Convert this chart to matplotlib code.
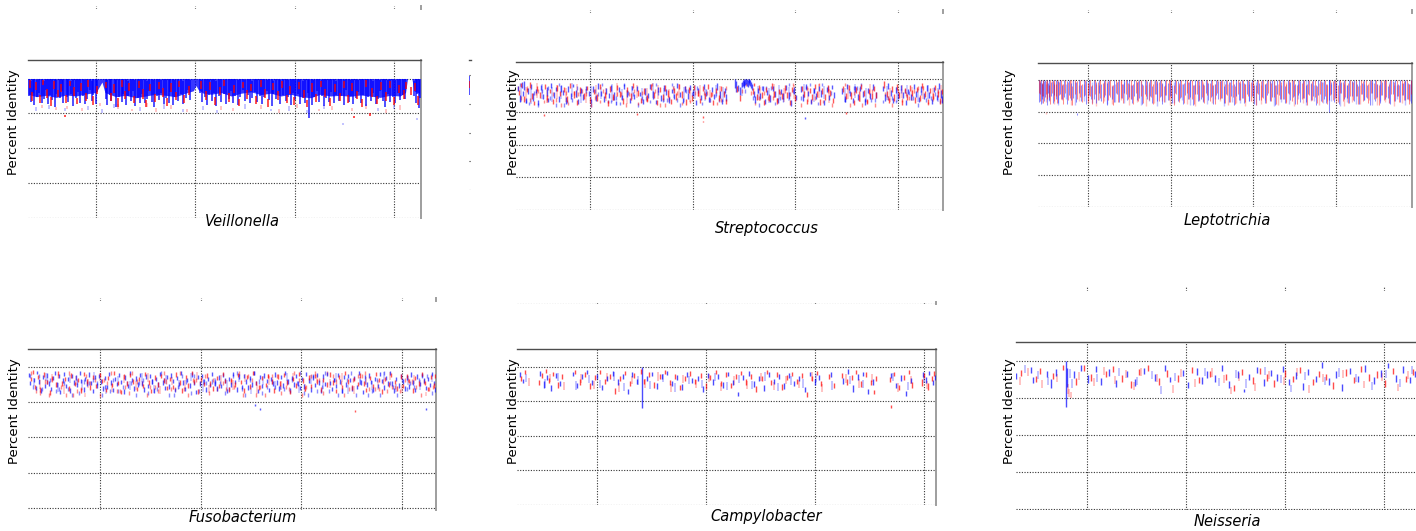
import numpy as np
import matplotlib
matplotlib.use("Agg")
import matplotlib.pyplot as plt

W, H = 1416, 531

# ---------------------------------------------------------------------------
# Recruited reads: (genome position in kb, top % identity, bottom % identity)
# ---------------------------------------------------------------------------

# Veillonella -- dense core coverage band plus individual read streaks
veil_core_kb = [158, 200, 250, 300, 350, 400, 450, 500, 515, 530, 545, 600, 650, 700, 750, 800,
                850, 900, 950, 990, 1003, 1015, 1040, 1080, 1130, 1180, 1230, 1280, 1330, 1380,
                1430, 1480, 1530, 1580, 1630, 1680, 1730, 1780, 1830, 1880, 1930, 1980, 2030,
                2058, 2068, 2090, 2100, 2136]
veil_core_lo = [95.5, 94.8, 95.2, 94.6, 95.3, 95.0, 95.6, 96.0, 97.5, 99.0, 96.0, 94.8, 95.2, 94.5,
                95.0, 95.5, 95.2, 94.8, 95.8, 96.5, 98.0, 96.8, 95.8, 95.5, 96.0, 95.0, 95.8, 96.2,
                95.4, 95.8, 95.0, 95.5, 94.8, 94.5, 95.5, 95.0, 95.2, 94.9, 95.3, 95.0, 94.6, 95.2,
                95.0, 96.0, 100, 100, 96.5, 95.5]
veil_blue = [(162,100,95.1),(171,99.4,93.2),(183,100,96.0),(189,100,92.4),(204,99.6,94.7),(211,100,95.9),
             (226,100,93.0),(238,99.2,94.1),(246,100,96.6),(259,100,92.7),(266,99.8,95.2),(281,100,93.9),
             (293,100,91.9),(301,99.5,95.6),(318,100,94.3),(327,100,96.4),(335,99.7,92.9),(352,100,94.8),
             (361,100,93.4),(376,99.3,95.7),(384,100,92.1),(397,100,94.4),(409,99.8,96.2),(418,100,93.1),
             (433,100,95.0),(446,99.6,92.6),(455,100,94.2),(468,100,96.8),(479,99.4,93.5),(487,100,95.4),
             (499,100,92.8),(507,99.6,96.1),(548,100,94.0),(556,99.7,92.3),(569,100,95.3),(578,100,93.6),
             (594,99.5,96.0),(603,100,91.8),(617,100,94.6),(629,99.8,93.3),(638,100,95.7),(652,100,92.5),
             (661,99.4,94.9),(676,100,93.7),(688,100,96.3),(697,99.6,92.0),(709,100,94.5),(722,100,93.0),
             (731,99.9,95.5),(746,100,92.9),(757,99.3,94.1),(766,100,96.5),(781,100,93.4),(792,99.7,91.7),
             (806,100,95.0),(815,100,93.8),(829,99.5,95.9),(840,100,92.6),(853,100,94.4),(866,99.8,93.1),
             (874,100,96.2),(889,100,92.3),(898,99.6,94.7),(912,100,93.5),(927,100,95.6),(936,99.4,92.8),
             (951,100,94.3),(963,100,96.7),(975,99.7,93.9),(1022,100,95.8),(1034,99.5,93.2),(1047,100,94.6),
             (1058,100,92.5),(1071,99.8,95.3),(1083,100,93.6),(1096,100,96.0),(1104,99.4,92.2),(1118,100,94.9),
             (1131,100,93.4),(1143,99.6,95.7),(1152,100,92.7),(1167,100,94.2),(1179,99.9,96.4),(1188,100,93.0),
             (1202,100,95.1),(1214,99.5,92.4),(1226,100,94.8),(1238,100,96.6),(1251,99.7,93.5),(1263,100,95.4),
             (1276,100,92.9),(1284,99.3,94.5),(1298,100,96.1),(1311,100,93.3),(1323,99.8,95.0),(1336,100,92.6),
             (1347,100,94.7),(1359,99.6,96.3),(1372,100,93.8),(1385,100,92.1),(1393,99.4,95.5),(1407,100,94.0),
             (1419,100,96.5),(1428,99.7,92.8),(1443,100,95.2),(1456,100,93.5),(1468,99.5,94.6),(1481,100,92.3),
             (1494,100,96.0),(1503,99.8,93.9),(1517,100,95.6),(1529,100,92.7),(1542,99.4,94.3),(1554,100,93.1),
             (1567,100,95.8),(1572,99.6,88.8),(1586,100,92.5),(1598,99.7,94.8),(1611,100,96.4),(1623,100,93.4),
             (1636,99.5,95.1),(1648,100,92.0),(1659,100,94.5),(1673,99.8,93.2),(1685,100,96.2),(1697,100,92.9),
             (1708,99.4,95.4),(1722,100,93.7),(1734,100,94.9),(1746,99.6,92.4),(1759,100,96.6),(1771,100,93.3),
             (1783,99.7,95.0),(1796,100,92.7),(1808,100,94.4),(1821,99.5,96.1),(1833,100,93.0),(1846,100,95.3),
             (1858,99.8,92.2),(1870,100,94.7),(1883,100,93.6),(1895,99.4,95.9),(1907,100,92.6),(1919,100,94.2),
             (1932,99.6,96.3),(1944,100,93.5),(1957,100,91.9),(1969,99.7,95.5),(1981,100,93.2),(1994,100,94.8),
             (2006,99.5,92.9),(2018,100,96.0),(2031,100,93.8),(2043,99.8,95.2),(2055,100,94.0),(2103,99.4,95.0),
             (2110,100,93.1),(2118,100,95.7),(2126,99.6,91.6),(2133,100,94.3)]
veil_red = [(166,99.5,97.4),(178,96.2,93.6),(197,98.9,96.8),(219,95.4,93.1),(231,99.7,98.1),(252,97.1,94.4),
            (273,94.6,92.2),(287,99.2,97.0),(309,96.7,94.8),(322,98.4,96.2),(344,89.6,89.1),(347,95.3,92.9),
            (368,99.4,97.9),(391,97.6,94.9),(404,94.3,92.6),(426,98.8,96.4),(449,96.0,93.7),(462,99.5,97.7),
            (483,94.9,92.4),(503,97.9,95.6),(552,99.1,97.2),(574,95.8,93.5),(590,98.3,96.0),(611,94.4,91.9),
            (633,99.6,97.6),(646,96.5,94.0),(668,98.7,96.5),(693,95.1,93.0),(714,99.3,97.3),(737,96.9,94.2),
            (750,93.8,91.8),(773,98.5,96.4),(797,95.6,93.3),(819,99.0,97.1),(836,97.2,94.6),(858,94.5,92.1),
            (879,98.6,96.1),(901,96.1,93.8),(918,99.4,97.5),(944,95.2,92.9),(968,97.8,95.4),(1028,99.2,97.0),
            (1052,96.4,93.9),(1076,98.9,96.7),(1099,94.8,92.5),(1124,97.5,95.2),(1146,99.6,97.8),(1171,95.9,93.4),
            (1193,98.2,96.0),(1219,94.2,92.0),(1242,99.1,97.2),(1259,96.6,94.1),(1281,98.4,96.3),(1304,95.0,92.7),
            (1329,99.5,97.6),(1352,97.0,94.5),(1368,94.1,91.9),(1390,98.7,96.6),(1414,96.3,93.9),(1437,99.3,97.4),
            (1459,95.4,93.0),(1476,98.0,95.7),(1499,94.6,92.3),(1523,99.0,97.0),(1547,96.8,94.3),(1563,93.9,91.7),
            (1589,98.6,96.2),(1606,95.7,93.2),(1631,99.4,97.5),(1654,97.1,94.6),(1679,94.4,92.0),(1702,98.3,96.1),
            (1727,96.0,93.6),(1749,99.2,97.3),(1766,95.3,92.9),(1790,98.8,96.5),(1800,89.4,88.8),(1813,96.5,94.0),
            (1837,94.0,91.8),(1861,99.5,97.6),(1880,90.0,89.4),(1889,97.3,94.8),(1912,95.1,92.6),(1936,98.9,96.8),
            (1961,96.2,93.7),(1978,99.3,97.4),(2001,94.7,92.4),(2025,98.1,95.9),(2049,96.7,94.2),(2059,99.0,97.0),
            (2087,97.5,95.2),(2107,98.6,96.4),(2122,95.0,92.5)]
veil_faint_red = [(230,92.5,91.5),(300,91.8,91.0),(352,92.2,91.2),(430,91.5,90.6),(520,93.0,92.0),
                  (610,92.6,91.4),(680,91.4,90.6),(755,93.0,91.8),(800,91.6,90.4),(880,92.4,91.2),
                  (960,91.2,90.4),(1130,92.0,91.0),(1190,91.6,90.6),(1330,92.4,91.4),(1420,91.2,90.2),
                  (1510,92.8,91.6),(1620,91.4,90.6),(1690,92.2,91.0),(1790,91.6,90.6),(1860,92.6,91.4),
                  (1960,91.2,90.2),(2030,92.4,91.0)]
veil_faint_blue = [(200,91.8,90.8),(265,92.4,91.2),(345,91.6,90.6),(460,92.2,91.0),(530,91.2,90.2),
                   (590,92.8,91.6),(720,91.8,90.8),(840,92.6,91.2),(940,91.4,90.4),(1040,92.0,91.0),
                   (1110,91.0,90.2),(1250,92.6,91.4),(1380,91.4,90.6),(1470,92.0,90.8),(1560,91.0,90.2),
                   (1650,92.4,91.2),(1743,87.3,86.7),(1920,91.6,90.6),(2000,92.6,91.4),(2116,88.6,88.0)]

# Streptococcus
strep_blue = [(151,97.9,96.4),(158,95.2,93.0),(167,99.1,97.2),(176,96.4,94.9),(181,99.6,96.8),(187,94.4,92.6),
              (199,97.3,95.5),(214,98.5,96.9),(223,95.8,93.4),(237,96.9,95.8),(249,93.6,92.2),(262,98.2,96.6),
              (270,95.5,94.1),(289,97.6,95.0),(297,94.2,92.9),(311,98.8,97.4),(326,96.1,94.4),(334,97.7,96.5),
              (348,95.0,93.2),(361,98.4,96.0),(369,96.6,95.3),(383,94.7,92.5),(394,97.9,96.2),(407,95.9,94.0),
              (416,98.6,97.5),(431,96.8,94.6),(442,93.9,92.3),(456,97.4,95.9),(468,95.6,93.8),(479,98.1,96.7),
              (493,96.3,94.9),(507,94.1,92.7),(516,97.8,96.1),(529,95.3,93.5),(541,98.9,97.0),(553,96.5,95.0),
              (566,94.8,93.0),(579,97.2,95.6),(591,95.7,94.2),(604,98.3,96.4),(618,96.0,93.7),(627,93.4,92.0),
              (642,97.5,96.0),(655,95.1,93.6),(667,98.7,97.1),(681,96.7,94.5),(694,94.3,92.8),(703,97.9,96.6),
              (716,95.4,93.9),(731,98.0,96.3),(743,96.2,95.0),(757,94.0,92.4),(769,97.3,95.3),(782,95.8,94.3),
              (794,98.5,96.9),(808,96.4,94.0),(820,93.7,92.3),(833,97.6,96.2),(847,95.2,93.4),(858,98.2,96.5),
              (872,96.9,95.2),(885,94.5,92.6),(899,97.1,95.9),(911,95.5,93.9),(924,98.8,97.3),(937,96.1,94.6),
              (951,94.2,92.7),(962,97.8,96.0),(976,95.9,94.1),(989,98.4,96.8),(1002,96.6,95.0),(1016,93.8,92.2),
              (1028,97.4,95.7),(1041,95.3,93.6),(1054,98.6,97.0),(1067,96.2,94.8),(1081,94.6,92.9),(1093,97.7,96.1),
              (1106,95.6,94.0),(1118,98.9,96.6),(1131,96.5,94.3),(1144,94.0,92.5),(1157,97.2,95.8),(1164,95.4,93.5),
              (1207,100,97.2),(1210,99.4,96.0),(1222,98.2,96.4),(1232,97.5,95.2),(1240,99.3,97.6),(1244,99.8,98.1),
              (1248,100,97.9),(1252,99.6,97.3),(1256,100,98.2),(1260,100,98.6),(1264,100,98.0),(1268,99.7,97.5),
              (1272,100,98.3),(1276,100,98.8),(1280,99.8,98.1),(1284,99.2,97.4),(1288,98.6,96.7),
              (1297,96.5,94.6),(1305,94.8,92.6),(1316,97.4,95.9),(1328,95.9,94.0),(1341,98.1,96.5),(1353,93.9,92.3),
              (1362,96.8,95.1),(1377,95.1,93.2),(1389,97.9,96.4),(1401,96.3,94.7),(1415,94.4,92.8),(1428,97.1,95.6),
              (1442,95.7,93.9),(1454,98.3,96.7),(1468,96.0,94.1),(1480,93.6,91.9),(1493,97.5,95.5),(1503,95.2,93.6),
              (1527,97.8,96.2),(1538,95.5,93.4),(1547,88.4,87.8),(1551,98.6,97.0),(1563,96.4,94.9),(1576,94.1,92.5),
              (1589,97.3,95.7),(1601,95.8,94.0),(1614,98.0,96.4),(1627,96.6,94.5),(1639,93.8,92.1),(1652,97.6,96.0),
              (1664,95.3,93.7),(1677,98.4,96.9),(1689,96.1,94.3),(1729,97.2,95.4),(1741,95.0,93.2),(1754,98.7,97.1),
              (1766,96.5,94.8),(1779,94.3,92.6),(1791,97.8,96.1),(1804,95.6,93.8),(1816,98.1,96.4),(1829,96.3,94.6),
              (1841,93.9,92.2),(1854,97.4,95.9),(1866,95.7,93.9),(1879,98.5,96.8),(1891,96.0,94.2),(1928,97.9,96.3),
              (1939,95.4,93.5),(1951,98.9,97.0),(1964,96.7,94.9),(1976,94.2,92.6),(1989,97.5,95.8),(2001,95.9,94.1),
              (2014,98.2,96.6),(2026,96.2,94.4),(2039,93.7,92.1),(2051,97.1,95.5),(2064,95.5,93.7),(2076,98.6,97.0),
              (2089,96.4,94.7),(2101,94.6,92.9),(2114,97.8,96.2),(2126,95.8,94.0),(2139,98.3,96.5),(2151,96.0,94.3),
              (2164,94.0,92.4),(2176,97.6,96.0),(2189,95.3,93.6),(2201,98.8,97.1),(2210,96.6,94.2),(2216,94.8,92.7)]
strep_blue2 = [(161,99.0,97.8),(187,93.8,92.6),(205,93.2,92.0),(228,96.5,95.3),(249,92.6,91.4),(267,97.0,95.8),
               (294,98.0,96.8),(307,95.0,93.8),(336,92.6,91.4),(351,99.0,97.8),(371,92.6,91.4),(390,93.8,92.6),
               (411,94.4,93.2),(435,98.0,96.8),(453,96.0,94.8),(479,97.0,95.8),(504,92.6,91.4),(525,97.0,95.8),
               (539,96.0,94.8),(559,99.0,97.8),(587,93.8,92.6),(601,93.8,92.6),(628,95.0,93.8),(646,93.2,92.0),
               (664,99.0,97.8),(687,96.5,95.3),(710,96.0,94.8),(735,92.6,91.4),(753,95.0,93.8),(774,95.0,93.8),
               (791,93.8,92.6),(819,99.0,97.8),(831,96.5,95.3),(856,94.4,93.2),(876,94.4,93.2),(899,99.0,97.8),
               (922,94.4,93.2),(938,92.6,91.4),(966,97.0,95.8),(978,97.0,95.8),(999,96.0,94.8),(1023,98.0,96.8),
               (1044,93.2,92.0),(1066,97.0,95.8),(1085,94.4,93.2),(1113,96.0,94.8),(1127,94.4,93.2),(1152,96.5,95.3),
               (1257,97.0,95.8),(1296,95.0,93.8),(1321,92.6,91.4),(1338,98.0,96.8),(1358,98.0,96.8),(1380,98.0,96.8),
               (1400,93.2,92.0),(1427,95.0,93.8),(1442,94.4,93.2),(1468,99.0,97.8),(1491,97.0,95.8),(1527,95.0,93.8),
               (1552,98.0,96.8),(1569,99.0,97.8),(1589,97.0,95.8),(1611,93.2,92.0),(1632,99.0,97.8),(1658,98.0,96.8),
               (1674,96.5,95.3),(1741,94.4,93.2),(1761,97.0,95.8),(1785,98.0,96.8),(1802,98.0,96.8),(1821,99.0,97.8),
               (1841,94.4,93.2),(1868,94.4,93.2),(1890,94.4,93.2),(1927,93.8,92.6),(1951,95.0,93.8),(1970,95.0,93.8),
               (1991,93.8,92.6),(2016,97.0,95.8),(2035,97.0,95.8),(2054,96.5,95.3),(2072,95.0,93.8),(2099,92.6,91.4),
               (2112,96.5,95.3),(2138,94.4,93.2),(2159,95.0,93.8),(2181,96.0,94.8),(2204,93.8,92.6)]
strep_red = [(154,96.8,95.1),(163,98.9,97.6),(179,94.9,93.0),(192,97.4,96.0),(206,99.2,97.4),(218,95.7,94.0),
             (229,93.4,92.0),(244,97.8,96.3),(256,96.2,94.3),(276,89.4,88.9),(279,98.5,96.9),(293,95.3,93.6),
             (305,97.1,95.7),(320,94.0,92.4),(339,98.3,96.5),(354,96.5,94.9),(372,97.7,96.0),(388,95.0,93.1),
             (401,98.8,97.2),(422,96.3,94.4),(437,93.8,92.1),(451,97.5,95.9),(472,95.8,93.9),(486,98.1,96.6),
             (502,94.6,92.7),(521,97.0,95.4),(536,95.4,93.5),(549,98.7,97.0),(571,96.0,94.2),(586,93.5,91.8),
             (598,97.9,96.1),(613,95.6,93.7),(633,98.4,96.8),(648,96.4,94.5),(662,94.2,92.5),(679,97.6,96.0),
             (698,95.9,93.8),(711,98.9,97.3),(728,89.7,89.2),(734,96.7,94.9),(750,94.4,92.6),(764,97.3,95.6),
             (779,95.2,93.3),(798,98.5,96.7),(813,96.1,94.3),(826,93.6,92.0),(841,97.7,96.2),(856,95.5,93.6),
             (867,98.2,96.5),(881,96.8,94.7),(894,94.0,92.3),(907,97.2,95.7),(921,95.7,93.8),(935,98.6,97.1),
             (947,96.4,94.4),(966,93.9,92.2),(980,97.5,95.9),(995,95.1,93.3),(1008,98.3,96.6),(1024,96.6,94.8),
             (1037,94.3,92.6),(1048,97.9,96.3),(1051,88.8,88.3),(1052,87.3,86.8),(1061,95.9,94.1),(1076,98.7,97.0),
             (1089,96.2,94.5),(1101,93.7,92.1),(1114,97.4,95.8),(1127,95.3,93.5),(1140,98.1,96.4),(1152,96.5,94.6),
             (1161,94.1,92.4),(1218,97.8,96.0),(1230,95.1,93.4),(1293,97.3,95.6),(1301,99.0,97.8),(1311,95.6,93.8),
             (1323,98.4,96.7),(1336,96.1,94.4),(1348,93.8,92.2),(1359,97.6,96.0),(1371,95.4,93.5),(1384,98.8,97.1),
             (1396,96.5,94.7),(1409,94.2,92.5),(1421,97.1,95.4),(1436,95.8,94.0),(1449,98.3,96.6),(1461,96.0,94.2),
             (1474,93.6,92.0),(1486,97.7,96.1),(1499,95.2,93.3),(1531,98.1,96.4),(1544,96.3,94.5),(1557,94.0,92.3),
             (1569,97.4,95.8),(1582,95.6,93.7),(1594,98.6,97.0),(1607,96.4,94.6),(1620,93.9,92.2),(1632,97.2,95.6),
             (1645,95.5,93.6),(1658,98.2,96.5),(1670,96.8,94.9),(1683,94.4,92.6),(1733,97.9,96.2),(1746,95.7,93.9),
             (1747,89.9,89.4),(1759,98.4,96.8),(1772,96.0,94.1),(1784,93.7,92.0),(1797,97.5,95.9),(1809,95.3,93.4),
             (1822,98.7,97.0),(1834,96.6,94.8),(1847,94.1,92.4),(1859,97.0,95.4),(1872,95.9,94.0),(1884,98.0,96.3),
             (1894,96.2,94.4),(1931,99.4,97.2),(1944,96.4,94.6),(1957,94.3,92.6),(1969,97.8,96.2),(1982,95.4,93.5),
             (1994,98.5,96.8),(2007,96.1,94.3),(2019,93.8,92.1),(2032,97.3,95.7),(2044,95.6,93.8),(2057,98.2,96.5),
             (2069,96.7,94.9),(2082,94.5,92.7),(2094,97.6,96.0),(2107,95.2,93.4),(2119,98.9,97.2),(2132,96.3,94.5),
             (2144,94.0,92.3),(2157,97.4,95.8),(2169,95.8,93.9),(2182,98.3,96.6),(2194,96.5,94.6),(2206,94.2,92.5),
             (2214,97.1,95.5)]
strep_red2 = [(150,98.0,96.8),(165,95.0,93.8),(193,98.0,96.8),(208,94.4,93.2),(235,96.5,95.3),(249,97.0,95.8),
              (277,93.8,92.6),(292,94.4,93.2),(319,96.0,94.8),(336,94.4,93.2),(358,92.6,91.4),(383,96.5,95.3),
              (395,93.2,92.0),(420,96.5,95.3),(442,96.0,94.8),(460,97.0,95.8),(482,96.0,94.8),(505,92.6,91.4),
              (524,95.0,93.8),(548,93.8,92.6),(563,97.0,95.8),(586,93.8,92.6),(613,95.0,93.8),(633,96.0,94.8),
              (651,96.0,94.8),(675,92.6,91.4),(690,96.0,94.8),(713,97.0,95.8),(736,93.2,92.0),(754,96.5,95.3),
              (779,94.4,93.2),(800,99.0,97.8),(817,97.0,95.8),(840,92.6,91.4),(866,92.6,91.4),(885,95.0,93.8),
              (906,98.0,96.8),(925,96.5,95.3),(948,93.2,92.0),(964,98.0,96.8),(987,93.8,92.6),(1011,96.5,95.3),
              (1025,96.0,94.8),(1055,96.5,95.3),(1070,96.5,95.3),(1094,96.0,94.8),(1118,93.2,92.0),(1139,94.4,93.2),
              (1160,98.0,96.8),(1242,97.0,95.8),(1260,99.0,97.8),(1286,96.5,95.3),(1304,93.2,92.0),(1325,95.0,93.8),
              (1349,96.5,95.3),(1367,95.0,93.8),(1389,95.0,93.8),(1409,94.4,93.2),(1426,96.5,95.3),(1452,97.0,95.8),
              (1473,96.0,94.8),(1489,99.0,97.8),(1529,92.6,91.4),(1557,98.0,96.8),(1577,93.8,92.6),(1598,95.0,93.8),
              (1616,99.0,97.8),(1634,93.8,92.6),(1658,97.0,95.8),(1681,92.6,91.4),(1743,99.0,97.8),(1767,92.6,91.4),
              (1786,96.5,95.3),(1811,96.5,95.3),(1827,92.6,91.4),(1849,93.8,92.6),(1872,97.0,95.8),(1887,92.6,91.4),
              (1936,96.0,94.8),(1951,95.0,93.8),(1971,92.6,91.4),(1998,97.0,95.8),(2020,94.4,93.2),(2038,96.0,94.8),
              (2056,95.0,93.8),(2080,97.0,95.8),(2097,98.0,96.8),(2123,98.0,96.8),(2144,93.2,92.0),(2170,95.0,93.8),
              (2195,97.0,95.8),(2212,94.4,93.2)]
strep_faint_blue = [(165,98,93),(215,97,92.5),(265,98.5,94),(315,97.5,93),(360,98,94),(410,99,94.5),
                    (455,97,92.8),(505,98,93.5),(555,97.5,94),(605,98.5,93.2),(655,97,93.8),(705,98,94),
                    (755,97.4,92.6),(805,98.8,94.2),(860,97.2,93),(910,98,94.4),(960,97.6,93.2),(1010,98.4,94),
                    (1060,97,93.4),(1112,98.2,94.2),(1150,97.6,93),(1240,99,95),(1320,98,93.6),(1370,97.2,92.8),
                    (1420,98.4,94),(1470,97.6,93.4),(1540,98.6,94.2),(1590,97.2,93),(1640,98,94),(1740,97.4,93.2),
                    (1790,98.6,94.4),(1845,97.2,93),(1945,98,93.8),(1995,97.6,93.2),(2045,98.4,94.2),(2095,97,93),
                    (2145,98.2,94),(2195,97.4,93.2)]
strep_faint_red = [(190,97.6,93.4),(240,98.8,94.2),(290,96.8,92.6),(340,98.2,94),(385,97.4,93),(435,98.6,94.4),
                   (480,97,92.8),(530,98.4,94),(580,97.2,93.4),(630,98.8,94.6),(680,96.6,92.4),(730,98.4,94.2),
                   (780,97.4,93),(830,98.2,94),(885,97,93.2),(935,98.6,94.4),(985,97.2,93),(1035,98.4,94.2),
                   (1085,96.8,92.6),(1135,98,94),(1330,97.6,93.4),(1395,98.6,94.2),(1445,97.2,93),(1495,98.2,94),
                   (1560,97.4,93.2),(1615,98.6,94.4),(1665,97,92.8),(1755,98.2,94),(1815,97.4,93.2),(1865,98.6,94.2),
                   (1960,97.2,93),(2020,98.4,94.2),(2070,97.6,93.4),(2120,98,94),(2170,97.2,93),(2210,98.4,94.4)]

# Leptotrichia
lept_blue = [(201,100,93.0),(207,99.3,95.6),(213,100,92.4),(219,98.6,94.1),(226,100,95.0),(233,99.6,93.3),
             (240,100,94.6),(249,100,92.1),(256,99.0,95.8),(266,100,93.7),(275,99.4,94.9),(287,100,92.8),
             (296,98.8,95.3),(309,100,94.0),(317,99.5,92.6),(331,100,95.6),(343,98.2,93.9),(356,100,94.7),
             (371,99.7,92.3),(384,100,95.1),(398,98.9,93.6),(412,100,94.4),(426,99.2,92.9),(432,89.6,89.0),
             (443,100,95.7),(459,98.5,93.2),(474,100,94.8),(488,99.6,92.5),(506,100,95.3),(519,98.0,93.8),
             (534,100,94.1),(551,99.3,92.7),(566,100,95.9),(579,98.7,93.4),(597,100,94.6),(612,99.1,92.2),
             (628,100,95.2),(643,97.9,94.0),(659,100,93.1),(674,99.4,95.5),(688,100,92.9),(703,98.6,94.3),
             (719,100,95.8),(734,99.8,93.5),(751,100,94.7),(766,98.3,92.6),(780,100,95.0),(797,99.2,93.7),
             (811,100,94.2),(826,98.8,92.4),(843,100,95.4),(857,99.5,93.9),(873,100,94.8),(888,98.1,92.8),
             (903,100,95.6),(919,99.7,93.2),(934,100,94.5),(949,98.9,92.3),(966,100,95.1),(981,99.0,93.6),
             (996,100,94.9),(1011,98.4,92.7),(1027,100,95.7),(1042,99.6,93.4),(1058,100,94.3),(1073,98.7,92.5),
             (1088,100,95.3),(1104,99.3,93.8),(1119,100,94.6),(1134,98.2,92.1),(1150,100,95.5),(1165,99.8,93.3),
             (1181,100,94.0),(1196,98.8,92.9),(1212,100,95.8),(1227,99.1,93.5),(1243,100,94.7),(1258,98.5,92.3),
             (1274,100,95.2),(1289,99.6,93.9),(1305,100,94.4),(1320,98.0,92.6),(1336,100,95.6),(1351,99.4,93.1),
             (1367,100,94.8),(1382,98.6,92.2),(1398,100,95.0),(1413,99.2,93.6),(1429,100,94.2),(1444,98.9,92.7),
             (1460,100,95.4),(1475,99.7,93.4),(1491,100,94.9),(1506,98.3,92.4),(1522,100,95.7),(1537,99.0,93.7),
             (1553,100,94.5),(1568,98.7,92.8),(1584,100,95.1),(1599,99.5,93.2),(1615,100,94.6),(1630,98.4,92.0),
             (1646,100,95.5),(1661,99.8,93.8),(1677,100,94.1),(1692,98.1,92.6),(1708,100,95.9),(1723,99.3,93.5),
             (1739,100,94.7),(1754,98.8,92.3),(1770,100,95.2),(1785,99.6,93.0),(1801,100,94.4),(1816,98.5,92.9),
             (1832,100,95.6),(1847,99.1,93.6),(1863,100,94.8),(1878,98.2,92.2),(1894,100,95.3),(1909,99.7,93.4),
             (1925,100,94.0),(1940,98.6,92.7),(1955,100,89.8),(1958,100,93.5),(1971,99.4,95.4),(1986,100,93.1),
             (2002,98.9,94.6),(2017,100,92.4),(2033,99.2,95.7),(2048,100,93.8),(2064,98.3,94.2),(2079,100,92.8),
             (2095,99.6,95.0),(2110,100,93.3),(2126,98.7,94.9),(2141,100,92.5),(2157,99.0,95.5),(2172,100,93.7),
             (2188,98.4,94.3),(2203,100,92.1),(2219,99.8,95.8),(2234,100,93.2),(2250,98.8,94.7),(2265,100,92.6),
             (2281,99.3,95.1),(2296,100,93.9),(2312,98.1,94.4),(2327,100,92.3),(2343,99.5,95.6),(2358,100,93.4),
             (2374,98.6,94.8),(2389,100,92.9),(2405,99.1,95.3),(2420,100,93.6),(2436,98.9,94.1),(2451,100,92.7),
             (2457,99.4,95.0)]
lept_red = [(204,99.8,95.9),(210,100,93.4),(222,98.9,94.8),(230,100,92.7),(244,99.5,95.4),(253,100,93.9),
            (262,98.3,94.5),(271,100,92.3),(283,99.7,95.7),(293,100,93.2),(304,98.6,94.9),(314,100,92.8),
            (325,99.2,95.2),(338,100,94.0),(350,98.8,92.5),(363,100,95.8),(377,99.4,93.6),(391,100,94.3),
            (404,98.1,92.2),(419,100,95.5),(435,99.6,93.8),(451,100,94.6),(466,98.7,92.9),(481,100,95.1),
            (497,99.0,93.3),(513,100,94.8),(527,98.4,92.4),(543,100,95.6),(558,99.3,93.7),(574,100,94.2),
            (589,98.9,92.6),(605,100,95.3),(620,99.7,93.5),(636,100,94.7),(651,98.2,92.1),(667,100,95.9),
            (682,99.5,93.0),(698,100,94.4),(713,98.6,92.8),(728,100,95.4),(743,99.1,93.9),(759,100,94.1),
            (774,98.8,92.3),(789,100,95.7),(805,99.6,93.4),(820,100,94.9),(835,98.3,92.7),(851,100,95.0),
            (866,99.2,93.6),(881,100,94.5),(896,98.7,92.4),(912,100,95.6),(927,99.4,93.2),(942,100,94.8),
            (958,98.0,92.9),(973,100,95.2),(989,99.8,93.7),(1004,100,94.3),(1019,98.5,92.2),(1035,100,95.5),
            (1050,99.1,93.1),(1065,100,94.6),(1081,98.9,92.6),(1096,100,95.8),(1111,99.3,93.8),(1127,100,94.0),
            (1142,98.4,92.5),(1157,100,95.4),(1173,99.6,93.5),(1188,100,94.7),(1204,98.2,92.8),(1219,100,95.1),
            (1235,99.0,93.3),(1250,100,94.9),(1266,98.7,92.3),(1281,100,95.7),(1297,99.5,93.9),(1312,100,94.4),
            (1328,98.8,92.7),(1343,100,95.3),(1359,99.2,93.0),(1374,100,94.6),(1390,98.1,92.4),(1405,100,95.6),
            (1421,99.7,93.7),(1436,100,94.2),(1452,98.6,92.9),(1467,100,95.0),(1483,99.3,93.4),(1498,100,94.8),
            (1514,98.4,92.1),(1529,100,95.5),(1545,99.6,93.6),(1560,100,94.3),(1576,98.9,92.6),(1591,100,95.8),
            (1607,99.0,93.2),(1622,100,94.7),(1638,98.2,92.4),(1653,100,95.2),(1669,99.4,93.9),(1684,100,94.1),
            (1700,98.7,92.8),(1715,100,95.4),(1731,99.8,93.3),(1746,100,94.9),(1762,98.3,92.5),(1777,100,95.7),
            (1793,99.1,93.8),(1808,100,94.4),(1824,98.8,92.2),(1839,100,95.1),(1855,99.5,93.5),(1870,100,94.6),
            (1886,98.0,92.7),(1901,100,95.6),(1917,99.3,93.1),(1932,100,94.8),(1948,98.6,92.3),(1963,100,95.3),
            (1979,99.7,93.7),(1994,100,94.2),(2010,98.5,92.9),(2025,100,95.8),(2041,99.2,93.4),(2056,100,94.5),
            (2072,98.9,92.6),(2087,100,95.0),(2103,99.4,93.6),(2118,100,94.9),(2134,98.1,92.4),(2149,100,95.4),
            (2165,99.6,93.2),(2180,100,94.7),(2196,98.7,92.8),(2211,100,95.7),(2227,99.0,93.9),(2242,100,94.3),
            (2258,98.4,92.1),(2273,100,95.2),(2289,99.8,93.5),(2304,100,94.6),(2320,98.6,92.6),(2335,100,95.5),
            (2351,99.3,93.3),(2366,100,94.8),(2382,98.2,92.9),(2397,100,95.1),(2413,99.5,93.7),(2428,100,94.0),
            (2444,98.8,92.5),(2455,100,95.6)]
lept_faint_blue = [(220,99.0,92.6),(265,98.4,93.4),(318,99.6,92.2),(368,98.8,93.8),(422,99.2,92.0),
                   (478,98.6,93.2),(522,99.4,92.8),(568,98.2,93.6),(615,99.6,92.4),(662,98.8,93.0),
                   (718,99.2,92.6),(762,98.4,93.8),(818,99.6,92.2),(868,98.8,93.4),(918,99.0,91.8),
                   (968,98.2,93.0),(1022,99.4,92.6),(1068,98.6,93.6),(1118,99.8,92.0),(1172,98.4,93.2),
                   (1218,99.2,92.4),(1268,98.8,93.8),(1322,99.6,91.8),(1368,98.2,93.0),(1418,99.0,92.6),
                   (1472,98.6,93.4),(1518,99.4,92.2),(1568,98.8,93.6),(1622,99.6,91.6),(1668,98.4,93.0),
                   (1718,99.2,92.4),(1772,98.6,93.8),(1818,99.8,92.0),(1868,98.2,93.2),(1922,99.4,92.6),
                   (1972,98.8,93.4),(2022,99.0,91.8),(2068,98.4,93.0),(2118,99.6,92.4),(2172,98.8,93.6),
                   (2218,99.2,92.0),(2268,98.6,93.2),(2322,99.4,92.6),(2368,98.2,93.8),(2418,99.6,92.2),
                   (2445,98.8,93.4)]
lept_faint_red = [(246,89.9,89.3),(245,98.8,93.0),(295,99.4,92.4),(345,98.6,93.6),(395,99.8,92.0),
                  (448,98.2,93.4),(498,99.0,92.6),(548,98.8,91.8),(598,99.4,93.2),(648,98.4,92.4),
                  (698,99.6,93.6),(748,98.8,92.0),(798,99.2,93.0),(848,98.2,91.6),(898,99.6,92.8),
                  (948,98.6,93.4),(998,99.0,92.2),(1048,98.4,93.6),(1098,99.8,92.4),(1148,98.8,91.8),
                  (1198,99.2,93.2),(1248,98.2,92.6),(1298,99.6,93.4),(1348,98.6,92.0),(1398,99.4,92.8),
                  (1448,98.8,91.6),(1498,99.0,93.0),(1548,98.4,92.4),(1598,99.8,93.6),(1648,98.6,92.2),
                  (1698,99.2,93.0),(1748,98.2,91.8),(1798,99.6,92.8),(1848,98.8,93.4),(1898,99.0,92.0),
                  (1948,98.4,93.2),(1998,99.4,92.6),(2048,98.8,91.6),(2098,99.6,93.0),(2148,98.2,92.4),
                  (2198,99.2,93.6),(2248,98.6,92.2),(2298,99.8,93.0),(2348,98.4,91.8),(2398,99.0,92.8),
                  (2440,98.8,93.6)]

# Fusobacterium
fuso_blue = [(146,98.4,97.3),(152,96.1,94.9),(171,97.0,95.6),(181,94.7,93.5),(189,98.8,97.9),(198,96.5,95.2),
             (209,93.9,92.6),(217,97.7,96.5),(226,95.3,94.1),(239,98.2,97.0),(247,96.0,94.6),(258,94.4,93.2),
             (266,97.4,96.2),(277,99.0,97.8),(284,95.7,94.4),(296,97.9,96.8),(303,93.6,92.4),(314,96.8,95.5),
             (322,98.6,97.4),(333,95.1,93.9),(341,97.2,96.0),(352,94.0,92.7),(361,98.0,96.9),(369,96.3,95.0),
             (380,97.6,96.4),(388,95.5,94.2),(399,98.9,97.6),(408,96.7,95.4),(419,94.2,92.9),(427,97.3,96.1),
             (437,95.9,94.7),(446,98.5,97.3),(456,96.1,94.8),(467,93.8,92.5),(475,97.8,96.6),(486,95.4,94.0),
             (494,98.1,97.0),(505,96.6,95.3),(514,94.6,93.3),(524,97.5,96.2),(535,95.0,93.8),(546,98.7,97.5),
             (555,96.2,95.0),(565,94.1,92.8),(576,97.1,95.9),(585,95.8,94.5),(596,98.3,97.1),(606,96.4,95.1),
             (617,93.7,92.3),(626,97.6,96.4),(637,95.2,94.0),(647,98.8,97.7),(657,96.9,95.6),(668,94.5,93.2),
             (677,97.4,96.1),(688,95.6,94.3),(698,98.4,97.2),(708,96.0,94.7),(719,94.3,93.0),(728,97.9,96.7),
             (739,95.3,94.0),(749,98.0,96.8),(760,96.5,95.2),(770,93.9,92.6),(779,97.2,96.0),(790,95.7,94.4),
             (800,98.6,97.4),(811,96.2,94.9),(821,94.7,93.4),(831,97.7,96.5),(842,95.1,93.8),(852,98.2,97.0),
             (862,96.7,95.4),(873,94.0,92.8),(882,97.5,96.2),(893,95.8,94.6),(903,98.9,97.6),(914,96.3,95.0),
             (924,94.4,93.1),(934,97.0,95.8),(945,95.4,94.1),(955,98.5,97.3),(965,96.1,94.8),(976,93.6,92.4),
             (985,97.8,96.6),(996,95.9,94.6),(1006,98.1,96.9),(1017,96.6,95.3),(1027,94.2,92.9),(1037,97.3,96.1),
             (1048,95.5,94.2),(1058,98.7,97.5),(1069,96.0,94.7),(1079,94.6,93.3),(1089,97.6,96.3),(1100,95.2,93.9),
             (1110,98.3,97.1),(1121,96.8,95.5),(1131,93.8,92.6),(1140,97.1,95.9),(1151,95.7,94.4),(1161,98.6,97.4),
             (1172,96.4,95.1),(1182,94.3,93.0),(1192,97.9,96.6),(1203,95.0,93.8),(1213,98.0,96.8),(1224,96.5,95.2),
             (1234,94.8,93.5),(1244,97.4,96.2),(1255,95.6,94.3),(1265,98.8,97.6),(1271,89.6,88.9),(1276,96.1,94.8),
             (1286,93.7,92.5),(1293,88.4,87.8),(1296,97.7,96.5),(1307,95.3,94.0),(1317,98.2,97.0),(1328,96.7,95.4),
             (1338,94.1,92.8),(1348,97.2,96.0),(1359,95.9,94.6),(1369,98.5,97.3),(1380,96.2,94.9),(1390,94.5,93.2),
             (1400,97.8,96.6),(1411,95.4,94.1),(1421,98.9,97.7),(1432,96.6,95.3),(1442,93.9,92.6),(1452,97.5,96.3),
             (1463,95.7,94.4),(1473,98.1,96.9),(1484,96.0,94.7),(1494,94.7,93.4),(1504,97.3,96.0),(1515,95.1,93.8),
             (1525,98.6,97.4),(1536,96.8,95.5),(1546,94.2,92.9),(1556,97.6,96.4),(1567,95.5,94.2),(1577,98.3,97.1),
             (1588,96.3,95.0),(1598,93.8,92.5),(1608,97.9,96.7),(1619,95.8,94.5),(1629,98.7,97.5),(1640,96.1,94.8),
             (1650,94.4,93.1),(1660,97.0,95.8),(1671,95.2,93.9),(1681,98.4,97.2),(1692,96.5,95.2),(1702,94.0,92.7),
             (1712,97.7,96.5),(1723,95.6,94.3),(1733,98.0,96.8),(1744,96.9,95.6),(1754,94.6,93.3),(1764,97.4,96.2),
             (1775,95.0,93.7),(1785,98.8,97.6),(1796,96.2,94.9),(1806,93.6,92.3),(1816,97.8,96.6),(1827,95.7,94.4),
             (1837,98.2,97.0),(1848,96.4,95.1),(1858,94.3,93.0),(1868,97.1,95.9),(1879,95.3,94.0),(1889,98.6,97.4),
             (1900,96.7,95.4),(1910,94.8,93.5),(1920,97.5,96.3),(1931,95.9,94.6),(1941,98.9,97.7),(1952,96.0,94.7),
             (1962,93.9,92.6),(1972,97.3,96.1),(1983,95.4,94.1),(1993,98.1,96.9),(2004,96.6,95.3),(2014,94.5,93.2),
             (2024,97.6,96.4),(2035,95.1,93.8),(2045,98.5,97.3),(2056,96.3,95.0),(2066,94.1,92.8),(2076,97.9,96.7),
             (2087,95.8,94.5),(2097,98.3,97.1),(2108,96.8,95.5),(2118,94.7,93.4),(2120,88.4,87.8),(2128,97.2,96.0),
             (2139,95.5,94.2),(2149,98.7,97.5),(2160,96.1,94.8),(2166,94.2,92.9)]
fuso_blue2 = [(153,98.0,96.8),(168,95.0,93.8),(196,98.0,96.8),(211,94.4,93.2),(238,96.5,95.3),(252,97.0,95.8),
              (280,93.8,92.6),(295,94.4,93.2),(322,96.0,94.8),(339,94.4,93.2),(361,92.6,91.4),(386,96.5,95.3),
              (398,93.2,92.0),(423,96.5,95.3),(445,96.0,94.8),(463,97.0,95.8),(485,96.0,94.8),(508,92.6,91.4),
              (527,95.0,93.8),(551,93.8,92.6),(566,97.0,95.8),(589,93.8,92.6),(616,95.0,93.8),(636,96.0,94.8),
              (654,96.0,94.8),(678,92.6,91.4),(693,96.0,94.8),(716,97.0,95.8),(739,93.2,92.0),(757,96.5,95.3),
              (782,94.4,93.2),(803,99.0,97.8),(820,97.0,95.8),(843,92.6,91.4),(869,92.6,91.4),(888,95.0,93.8),
              (909,98.0,96.8),(928,96.5,95.3),(951,93.2,92.0),(967,98.0,96.8),(990,93.8,92.6),(1014,96.5,95.3),
              (1028,96.0,94.8),(1058,96.5,95.3),(1073,96.5,95.3),(1097,96.0,94.8),(1121,93.2,92.0),(1142,94.4,93.2),
              (1163,98.0,96.8),(1180,99.0,97.8),(1205,94.4,93.2),(1222,92.6,91.4),(1245,97.0,95.8),(1263,99.0,97.8),
              (1289,96.5,95.3),(1307,93.2,92.0),(1328,95.0,93.8),(1352,96.5,95.3),(1370,95.0,93.8),(1392,95.0,93.8),
              (1412,94.4,93.2),(1429,96.5,95.3),(1455,97.0,95.8),(1476,96.0,94.8),(1492,99.0,97.8),(1515,93.2,92.0),
              (1532,92.6,91.4),(1560,98.0,96.8),(1580,93.8,92.6),(1601,95.0,93.8),(1619,99.0,97.8),(1637,93.8,92.6),
              (1661,97.0,95.8),(1684,92.6,91.4),(1703,93.8,92.6),(1726,97.0,95.8),(1746,99.0,97.8),(1770,92.6,91.4),
              (1789,96.5,95.3),(1814,96.5,95.3),(1830,92.6,91.4),(1852,93.8,92.6),(1875,97.0,95.8),(1890,92.6,91.4),
              (1913,99.0,97.8),(1939,96.0,94.8),(1954,95.0,93.8),(1974,92.6,91.4),(2001,97.0,95.8),(2023,94.4,93.2),
              (2041,96.0,94.8),(2059,95.0,93.8),(2083,97.0,95.8),(2100,98.0,96.8),(2126,98.0,96.8),(2147,93.2,92.0)]
fuso_red = [(157,97.1,95.9),(166,99.2,98.1),(177,95.0,93.7),(193,97.8,96.6),(204,94.3,93.0),(221,98.5,97.3),
            (235,96.4,95.1),(251,93.4,92.1),(262,97.5,96.3),(280,95.6,94.3),(292,98.9,97.7),(310,96.0,94.7),
            (327,97.3,96.1),(345,94.6,93.3),(357,98.2,97.0),(374,95.8,94.5),(392,97.0,95.8),(404,93.9,92.6),
            (422,98.6,97.4),(433,96.5,95.2),(451,94.9,93.6),(463,97.7,96.5),(481,95.3,94.0),(498,98.4,97.2),
            (510,96.7,95.4),(528,94.1,92.8),(541,97.4,96.2),(559,95.5,94.2),(572,98.8,97.6),(590,96.1,94.8),
            (603,93.6,92.3),(621,97.9,96.7),(633,95.9,94.6),(651,98.3,97.1),(664,96.6,95.3),(682,94.4,93.1),
            (694,97.2,96.0),(712,95.2,93.9),(725,98.7,97.5),(743,96.3,95.0),(755,93.8,92.5),(774,97.6,96.4),
            (786,95.7,94.4),(804,98.1,96.9),(817,96.8,95.5),(835,94.7,93.4),(847,97.1,95.9),(865,95.0,93.7),
            (878,98.5,97.3),(896,96.2,94.9),(908,94.0,92.7),(926,97.8,96.6),(939,95.4,94.1),(957,98.9,97.7),
            (969,96.5,95.2),(987,93.7,92.4),(1000,97.3,96.1),(1018,95.8,94.5),(1030,98.2,97.0),(1048,96.0,94.7),
            (1061,94.5,93.2),(1079,97.5,96.3),(1091,95.3,94.0),(1109,98.6,97.4),(1122,96.7,95.4),(1140,94.2,92.9),
            (1152,97.0,95.8),(1170,95.6,94.3),(1183,98.3,97.1),(1201,96.4,95.1),(1213,93.9,92.6),(1231,97.7,96.5),
            (1244,95.1,93.8),(1262,98.8,97.6),(1274,96.1,94.8),(1292,94.8,93.5),(1305,97.4,96.2),(1323,95.5,94.2),
            (1335,98.0,96.8),(1353,96.6,95.3),(1366,94.0,92.7),(1384,97.9,96.7),(1396,95.9,94.6),(1414,98.4,97.2),
            (1427,96.3,95.0),(1445,93.5,92.2),(1457,97.2,96.0),(1475,95.4,94.1),(1488,98.7,97.5),(1506,96.8,95.5),
            (1518,94.6,93.3),(1536,97.6,96.4),(1549,95.2,93.9),(1567,98.1,96.9),(1579,96.5,95.2),(1597,94.3,93.0),
            (1610,97.0,95.8),(1628,95.7,94.4),(1640,98.5,97.3),(1658,96.2,94.9),(1671,93.8,92.5),(1689,97.8,96.6),
            (1701,95.0,93.7),(1719,98.9,97.7),(1732,96.6,95.3),(1750,94.9,93.6),(1762,97.3,96.1),(1765,87.9,87.3),
            (1780,95.8,94.5),(1793,98.2,97.0),(1811,96.0,94.7),(1823,94.1,92.8),(1841,97.5,96.3),(1854,95.3,94.0),
            (1872,98.6,97.4),(1884,96.9,95.6),(1902,93.7,92.4),(1915,97.1,95.9),(1933,95.6,94.3),(1945,98.3,97.1),
            (1963,96.4,95.1),(1976,94.5,93.2),(1994,97.9,96.7),(2006,95.2,93.9),(2024,98.0,96.8),(2037,96.7,95.4),
            (2055,94.0,92.7),(2067,97.4,96.2),(2085,95.9,94.6),(2098,98.7,97.5),(2116,96.1,94.8),(2128,94.4,93.1),
            (2146,97.7,96.5),(2158,95.4,94.1),(2166,98.1,96.9)]
fuso_red2 = [(158,99.0,97.8),(184,93.8,92.6),(202,93.2,92.0),(225,96.5,95.3),(246,92.6,91.4),(264,97.0,95.8),
             (291,98.0,96.8),(304,95.0,93.8),(333,92.6,91.4),(348,99.0,97.8),(368,92.6,91.4),(387,93.8,92.6),
             (408,94.4,93.2),(432,98.0,96.8),(450,96.0,94.8),(476,97.0,95.8),(501,92.6,91.4),(522,97.0,95.8),
             (536,96.0,94.8),(556,99.0,97.8),(584,93.8,92.6),(598,93.8,92.6),(625,95.0,93.8),(643,93.2,92.0),
             (661,99.0,97.8),(684,96.5,95.3),(707,96.0,94.8),(732,92.6,91.4),(750,95.0,93.8),(771,95.0,93.8),
             (788,93.8,92.6),(816,99.0,97.8),(828,96.5,95.3),(853,94.4,93.2),(873,94.4,93.2),(896,99.0,97.8),
             (919,94.4,93.2),(935,92.6,91.4),(963,97.0,95.8),(975,97.0,95.8),(996,96.0,94.8),(1020,98.0,96.8),
             (1041,93.2,92.0),(1063,97.0,95.8),(1082,94.4,93.2),(1110,96.0,94.8),(1124,94.4,93.2),(1149,96.5,95.3),
             (1164,95.0,93.8),(1190,99.0,97.8),(1211,92.6,91.4),(1236,98.0,96.8),(1254,97.0,95.8),(1275,92.6,91.4),
             (1293,95.0,93.8),(1318,92.6,91.4),(1335,98.0,96.8),(1355,98.0,96.8),(1377,98.0,96.8),(1397,93.2,92.0),
             (1424,95.0,93.8),(1439,94.4,93.2),(1465,99.0,97.8),(1488,97.0,95.8),(1504,92.6,91.4),(1524,95.0,93.8),
             (1549,98.0,96.8),(1566,99.0,97.8),(1586,97.0,95.8),(1608,93.2,92.0),(1629,99.0,97.8),(1655,98.0,96.8),
             (1671,96.5,95.3),(1697,96.0,94.8),(1712,92.6,91.4),(1738,94.4,93.2),(1758,97.0,95.8),(1782,98.0,96.8),
             (1799,98.0,96.8),(1818,99.0,97.8),(1838,94.4,93.2),(1865,94.4,93.2),(1887,94.4,93.2),(1907,96.5,95.3),
             (1924,93.8,92.6),(1948,95.0,93.8),(1967,95.0,93.8),(1988,93.8,92.6),(2013,97.0,95.8),(2032,97.0,95.8),
             (2051,96.5,95.3),(2069,95.0,93.8),(2096,92.6,91.4),(2109,96.5,95.3),(2135,94.4,93.2),(2156,95.0,93.8)]
fuso_faint_blue = [(170,97.0,94.6),(230,98.4,96.0),(290,95.4,93.0),(350,97.8,95.4),(410,96.2,93.6),
                   (470,98.6,96.2),(530,94.8,92.4),(590,97.4,95.0),(650,96.0,93.4),(710,98.2,95.8),
                   (770,95.0,92.6),(830,97.6,95.2),(890,96.4,93.8),(950,98.4,96.0),(1010,95.2,92.8),
                   (1070,97.0,94.6),(1130,96.2,93.6),(1190,98.0,95.6),(1250,94.6,92.2),(1310,97.4,95.0),
                   (1370,96.0,93.4),(1430,98.4,96.0),(1490,95.0,92.6),(1550,97.6,95.2),(1610,96.4,93.8),
                   (1670,98.2,95.8),(1730,94.8,92.4),(1790,97.2,94.8),(1850,96.0,93.4),(1910,98.6,96.2),
                   (1970,95.2,92.8),(2030,97.4,95.0),(2090,96.2,93.6),(2150,98.0,95.6)]
fuso_faint_red = [(200,96.2,93.8),(260,98.0,95.6),(320,94.8,92.4),(380,97.4,95.0),(426,92.6,91.6),
                  (440,96.6,94.0),(500,98.4,96.0),(560,95.2,92.8),(620,97.8,95.4),(680,96.0,93.4),
                  (740,98.2,95.8),(800,94.6,92.2),(860,97.2,94.8),(920,96.4,93.8),(980,98.6,96.2),
                  (1040,95.0,92.6),(1100,97.6,95.2),(1160,96.2,93.6),(1220,98.0,95.6),(1280,94.8,92.4),
                  (1340,97.4,95.0),(1400,96.0,93.4),(1460,98.4,96.0),(1520,95.2,92.8),(1580,97.8,95.4),
                  (1640,96.6,94.0),(1700,98.2,95.8),(1760,94.6,92.2),(1820,97.2,94.8),(1880,96.2,93.6),
                  (1940,98.6,96.2),(2000,95.0,92.6),(2060,97.6,95.2),(2120,93.0,91.8)]

# Campylobacter
camp_blue = [(145,98.4,97.0),(160,96.6,95.2),(240,98.8,97.4),(255,95.8,94.0),(272,97.6,96.2),(290,94.6,93.0),
             (310,98.2,96.8),(330,96.0,94.4),(390,98.6,97.2),(410,95.4,93.8),(432,97.8,96.4),(455,99.2,98.0),
             (478,96.2,94.6),(500,98.0,96.6),(525,94.8,93.2),(548,97.4,96.0),(572,98.8,97.4),(595,96.4,94.8),
             (618,97.8,96.4),(640,93.6,92.0),(662,98.4,97.0),(685,96.6,95.0),(706,100,88.2),(730,97.2,95.8),
             (752,98.6,97.2),(775,95.2,93.6),(798,97.8,96.4),(822,98.8,97.6),(845,96.0,94.4),(868,97.6,96.2),
             (892,95.0,93.4),(915,98.4,97.0),(938,96.8,95.2),(962,97.4,96.0),(985,94.4,92.8),(1008,98.2,96.8),
             (1032,96.4,94.8),(1055,97.8,96.4),(1078,95.6,94.0),(1102,98.6,97.2),(1125,96.2,94.6),(1148,92.8,91.6),
             (1172,97.6,96.2),(1195,98.8,97.4),(1218,95.8,94.2),(1242,97.2,95.8),(1265,94.6,93.0),(1288,98.4,97.0),
             (1312,96.6,95.0),(1335,97.8,96.4),(1358,95.2,93.6),(1382,98.2,96.8),(1405,96.0,94.4),(1428,97.4,96.0),
             (1452,94.2,92.6),(1475,98.6,97.2),(1498,96.4,94.8),(1520,97.6,96.2),(1575,98.4,97.0),(1630,96.8,95.0),
             (1652,99.4,98.0),(1675,94.6,92.8),(1698,97.8,96.2),(1722,98.6,97.2),(1745,93.6,92.0),(1768,96.4,94.8),
             (1850,98.2,96.8),(1872,95.4,93.8),(1895,97.6,96.0),(1918,93.0,91.4),(1940,96.8,95.2),(1995,98.4,97.0),
             (2010,97.0,95.4),(2025,98.8,97.6),(2040,96.2,94.6),(2050,97.6,96.2)]
camp_red = [(150,97.4,96.0),(168,99.0,97.8),(235,96.2,94.6),(248,98.2,96.8),(265,99.4,98.2),(282,96.8,95.2),
            (300,98.6,97.2),(322,95.6,94.0),(340,97.8,96.4),(398,99.0,97.8),(420,96.4,94.8),(445,98.4,97.0),
            (468,95.2,93.6),(490,97.6,96.2),(512,99.2,98.0),(535,96.6,95.0),(558,98.0,96.6),(582,93.8,92.2),
            (605,97.2,95.8),(628,98.8,97.6),(650,96.0,94.4),(672,98.2,96.8),(700,99.4,97.8),(715,96.4,95.0),
            (740,98.4,97.0),(762,95.6,94.0),(788,97.8,96.4),(810,99.0,97.8),(835,96.2,94.6),(858,98.0,96.6),
            (880,94.8,93.2),(905,97.4,96.0),(928,98.8,97.4),(950,96.6,95.0),(975,98.2,96.8),(998,95.2,93.6),
            (1020,97.6,96.2),(1045,99.2,98.0),(1068,96.0,94.4),(1090,98.4,97.0),(1115,95.4,93.8),(1138,97.8,96.4),
            (1160,98.8,97.6),(1185,96.4,94.8),(1208,98.0,96.6),(1230,94.4,92.8),(1255,97.2,95.8),(1278,99.0,97.8),
            (1300,96.2,94.6),(1325,98.4,97.0),(1348,95.0,93.4),(1370,97.6,96.2),(1395,98.6,97.4),(1418,96.6,95.0),
            (1440,98.2,96.8),(1465,92.6,91.2),(1488,97.4,96.0),(1510,98.8,97.6),(1528,96.0,94.4),(1565,97.8,96.4),
            (1585,95.4,93.8),(1625,98.2,96.8),(1645,96.4,94.8),(1668,97.6,96.2),(1690,99.0,97.8),(1712,95.8,94.2),
            (1735,98.4,97.0),(1758,96.2,94.6),(1772,93.2,92.0),(1780,97.4,96.0),(1845,97.0,95.6),(1850,88.8,88.2),
            (1862,98.6,97.4),(1885,94.8,93.2),(1908,97.6,96.2),(1930,99.2,98.0),(1945,95.6,94.0),(1990,96.4,94.4),
            (2002,98.2,96.8),(2018,95.2,93.2),(2035,97.4,96.0),(2048,98.8,97.4)]
camp_faint_blue = [(175,97.8,95.6),(262,96.4,94.0),(320,98.2,95.8),(402,95.8,93.4),(462,97.6,95.2),
                   (515,96.2,93.8),(578,98.4,96.0),(625,95.4,93.0),(690,97.2,94.8),(745,96.0,93.6),
                   (805,98.0,95.6),(860,95.2,92.8),(920,97.4,95.0),(980,96.2,93.8),(1040,98.2,95.8),
                   (1095,95.6,93.2),(1150,97.6,95.2),(1210,96.0,93.6),(1270,98.4,96.0),(1330,95.4,93.0),
                   (1390,97.2,94.8),(1445,96.4,94.0),(1505,98.0,95.6),(1580,95.8,93.4),(1660,97.4,95.0),
                   (1720,96.2,93.8),(1860,98.2,95.8),(1925,95.6,93.2),(2000,97.6,95.2)]
camp_faint_red = [(190,96.8,94.4),(285,98.0,95.6),(350,95.6,93.2),(425,97.8,95.4),(485,96.0,93.6),
                  (545,98.2,95.8),(600,95.2,92.8),(660,97.4,95.0),(720,96.4,94.0),(780,98.4,96.0),
                  (840,95.0,92.6),(895,97.6,95.2),(955,96.2,93.8),(1015,98.0,95.6),(1070,95.4,93.0),
                  (1130,97.2,94.8),(1190,96.0,93.6),(1250,98.2,95.8),(1310,95.6,93.2),(1365,97.4,95.0),
                  (1425,96.2,93.8),(1485,98.4,96.0),(1530,95.0,92.6),(1640,97.8,95.4),(1700,96.4,94.0),
                  (1760,98.0,95.6),(1880,95.2,92.8),(1940,97.4,95.0),(2015,96.0,93.6)]

# Neisseria
neis_blue = [(140,96.8,95.2),(215,98.4,96.8),(228,95.6,94.0),(298,97.4,95.6),(318,95.0,92.8),(345,97.8,96.0),
             (392,100,87.7),(398,98.0,93.0),(432,97.2,95.4),(468,99.0,97.4),(505,96.2,94.0),(545,98.6,97.0),
             (572,95.4,93.6),(612,97.8,96.0),(648,94.8,93.0),(702,97.4,95.6),(742,95.2,93.2),(788,98.2,96.6),
             (843,96.6,94.6),(892,98.8,97.2),(918,95.8,94.2),(985,97.6,96.0),(1012,94.4,92.6),(1055,98.0,96.2),
             (1080,95.6,93.8),(1108,97.4,95.4),(1145,96.2,94.4),(1180,98.8,97.2),(1215,94.6,92.8),(1262,97.2,95.4),
             (1295,92.4,91.6),(1320,96.6,94.8),(1358,98.4,96.8),(1392,95.0,93.2),(1428,97.6,96.0),(1462,96.4,94.6),
             (1488,98.6,97.0),(1520,95.2,93.4),(1555,97.0,95.2),(1590,94.0,92.2),(1618,97.8,96.2),(1655,96.0,94.2),
             (1688,99.6,98.0),(1722,95.4,93.6),(1760,97.2,95.4),(1790,93.8,92.0),(1830,98.2,96.6),(1868,96.0,94.2),
             (1905,98.8,97.0),(1948,95.6,93.8),(1985,97.6,95.8),(2020,99.4,98.0),(2062,96.2,94.4),(2095,98.6,96.8),
             (2130,95.8,94.0),(2155,97.4,95.6)]
neis_red = [(168,97.6,96.0),(240,96.0,94.2),(262,98.2,96.6),(328,96.8,95.0),(378,99.0,97.6),(445,95.4,93.6),
            (485,98.8,97.2),(520,96.4,94.6),(598,97.2,95.6),(630,98.6,97.0),(678,96.2,94.4),(722,94.6,92.8),
            (762,97.8,96.2),(808,98.8,97.4),(865,95.4,93.6),(905,97.6,95.8),(962,96.2,94.4),(1030,98.4,96.8),
            (1068,95.8,94.0),(1120,97.4,95.6),(1200,96.6,94.8),(1240,93.6,92.0),(1285,97.8,96.2),(1338,95.6,93.8),
            (1375,98.2,96.6),(1410,96.4,94.6),(1445,94.8,93.0),(1502,97.6,95.8),(1540,96.0,94.2),(1575,98.4,96.8),
            (1640,95.2,93.4),(1672,97.4,95.6),(1705,96.6,94.8),(1742,94.2,92.4),(1810,97.8,96.0),(1850,95.8,94.0),
            (1885,98.6,97.0),(1925,96.4,94.6),(1965,97.2,95.4),(2005,94.8,93.0),(2045,98.2,96.6),(2110,96.0,94.2),
            (2145,97.8,96.2)]
neis_faint_blue = [(185,98.8,96.8),(255,97.2,95.2),(305,95.6,93.6),(415,97.8,95.4),(425,95.2,92.8),
                   (550,96.6,94.4),(660,98.0,96.0),(752,95.8,93.6),(830,97.4,95.2),(872,93.2,91.0),
                   (945,96.8,94.6),(1095,98.2,96.0),(1168,95.4,93.2),(1250,97.6,95.4),(1305,95.0,92.8),
                   (1400,98.4,96.2),(1478,96.2,94.0),(1530,93.6,91.6),(1600,97.0,94.8),(1700,95.6,93.4),
                   (1775,98.0,95.8),(1860,96.4,94.2),(1940,94.2,92.2),(2012,97.6,95.4),(2080,95.2,93.0),
                   (2140,98.6,96.4)]
neis_faint_red = [(160,95.6,93.6),(200,98.0,96.0),(275,94.8,92.8),(350,96.6,94.4),(402,93.8,91.0),
                  (410,92.4,90.2),(418,91.6,90.0),(460,97.0,94.8),(535,95.4,93.2),(585,98.4,96.2),
                  (640,96.0,93.8),(695,97.6,95.4),(735,94.4,92.2),(775,98.2,96.0),(855,96.4,94.2),
                  (935,93.4,91.4),(975,97.8,95.6),(1045,95.2,93.0),(1130,98.0,95.8),(1190,96.2,94.0),
                  (1228,93.0,91.2),(1270,96.8,94.6),(1350,94.0,92.0),(1420,97.4,95.2),(1495,95.8,93.6),
                  (1560,98.2,96.0),(1620,93.4,91.4),(1690,96.6,94.4),(1795,97.6,95.4),(1900,94.6,92.6),
                  (1990,96.8,94.6),(2070,93.8,91.8),(2120,97.2,95.0)]

# Reads at the edge of the neighbouring strip
edge_blue = [(0.5, 99.6, 93.0)]
edge_red = [(0.5, 98.0, 95.5)]

genera = ["Veillonella", "Streptococcus", "Leptotrichia",
          "Fusobacterium", "Campylobacter", "Neisseria"]
grid_kb = [500, 1000, 1500, 2000]
grid_identity = [60, 70, 80, 90, 100]

BLUE, RED = "#0000ff", "#ff0000"

# ---------------------------------------------------------------------------
# Layout (pixel boxes on the 1416 x 531 canvas) and read layers per panel:
# each layer is (reads, colour, alpha, line width in points)
# ---------------------------------------------------------------------------
panels = [
    dict(box=(28, 60, 421, 218), gx=(96, 394), g100=79, sp=35.67, right=True,
         title=(242, 221), ylab=(14, 122), stub=(28, 6, 421, 9), stub_line=False,
         layers=[(veil_faint_blue, BLUE, 0.3, 1.1), (veil_faint_red, RED, 0.3, 1.1),
                 (veil_blue, BLUE, 0.75, 1.3), (veil_red, RED, 0.75, 1.3)]),
    dict(box=(516, 62, 943, 210), gx=(590, 898), g100=80, sp=34.0, right=True,
         title=(767, 228), ylab=(513.5, 122), stub=(516, 10, 943, 12.5), stub_line=False,
         layers=[(strep_faint_blue, BLUE, 0.25, 1.1), (strep_faint_red, RED, 0.25, 1.1),
                 (strep_blue2, BLUE, 0.45, 1.0), (strep_red2, RED, 0.45, 1.0),
                 (strep_blue, BLUE, 0.65, 1.0), (strep_red, RED, 0.65, 1.0)]),
    dict(box=(1038, 63, 1412, 207), gx=(1088, 1336), g100=80, sp=32.3, right=True,
         title=(1227, 220), ylab=(1009, 122), stub=(1038, 10, 1412, 12.5), stub_line=False,
         layers=[(lept_faint_blue, BLUE, 0.25, 1.0), (lept_faint_red, RED, 0.25, 1.0),
                 (lept_blue, BLUE, 0.45, 0.75), (lept_red, RED, 0.45, 0.75)]),
    dict(box=(28, 349, 436, 510), gx=(100, 402), g100=367, sp=35.2, right=True,
         title=(243, 517), ylab=(15, 411), stub=(28, 298, 436, 301), stub_line=False,
         layers=[(fuso_faint_blue, BLUE, 0.25, 1.1), (fuso_faint_red, RED, 0.25, 1.1),
                 (fuso_blue2, BLUE, 0.45, 1.0), (fuso_red2, RED, 0.45, 1.0),
                 (fuso_blue, BLUE, 0.65, 1.0), (fuso_red, RED, 0.65, 1.0)]),
    dict(box=(517, 349, 936, 505), gx=(597, 924), g100=367, sp=35.0, right=True,
         title=(766, 517), ylab=(513, 411), stub=(517, 302, 936, 304), stub_line=True,
         layers=[(camp_faint_blue, BLUE, 0.3, 1.1), (camp_faint_red, RED, 0.3, 1.1),
                 (camp_blue, BLUE, 0.7, 1.0), (camp_red, RED, 0.7, 1.0)]),
    dict(box=(1016, 342, 1443, 510), gx=(1087, 1384), g100=361, sp=37.0, right=False,
         title=(1227, 521), ylab=(1009, 411), stub=(1016, 287, 1443, 291), stub_line=False,
         layers=[(neis_faint_blue, BLUE, 0.3, 1.1), (neis_faint_red, RED, 0.3, 1.1),
                 (neis_blue, BLUE, 0.7, 1.0), (neis_red, RED, 0.7, 1.0)]),
]

GRID_KW = dict(color="0.2", linestyle=(0, (1, 1.4)), linewidth=0.8)

fig = plt.figure(figsize=(W / 100, H / 100), dpi=100)
fig.patch.set_facecolor("white")


def px_axes(l, t, r, b):
    return fig.add_axes([l / W, 1 - b / H, (r - l) / W, (b - t) / H])


def x_limits(p):
    l, t, r, b = p["box"]
    g1, g2 = p["gx"]
    kbpp = (grid_kb[-1] - grid_kb[0]) / (g2 - g1)
    return grid_kb[0] - (g1 - l) * kbpp, grid_kb[-1] + (r - g2) * kbpp


def y_limits(p, t, b):
    return 100 - (b - p["g100"]) / p["sp"] * 10, 100 + (p["g100"] - t) / p["sp"] * 10


def style(ax, right, top=True):
    ax.set_xticks(grid_kb)
    ax.set_yticks(grid_identity)
    ax.tick_params(length=0, labelbottom=False, labelleft=False)
    for s in ("left", "bottom"):
        ax.spines[s].set_visible(False)
    ax.spines["top"].set_visible(top)
    ax.spines["top"].set_color("0.3")
    ax.spines["top"].set_linewidth(1.0)
    ax.spines["right"].set_visible(right)
    ax.spines["right"].set_color("0.62")
    ax.spines["right"].set_linewidth(1.4)
    ax.set_axisbelow(True)


def draw_reads(ax, reads, color, alpha, lw):
    arr = np.asarray(reads, dtype=float)
    ax.vlines(arr[:, 0], arr[:, 2], arr[:, 1], colors=color, alpha=alpha,
              linewidth=lw, capstyle="butt", zorder=3)


for name, p in zip(genera, panels):
    l, t, r, b = p["box"]
    ax = px_axes(l, t, r, b)
    ax.set_xlim(*x_limits(p))
    ax.set_ylim(*y_limits(p, t, b))
    style(ax, p["right"])
    ax.grid(True, **GRID_KW)

    if name == "Veillonella":
        ax.fill_between(veil_core_kb, veil_core_lo, 100, color=BLUE, alpha=0.78,
                        linewidth=0, zorder=2)
    for reads, color, alpha, lw in p["layers"]:
        draw_reads(ax, reads, color, alpha, lw)

    # clipped remnant of the grid above the panel
    sl, st, sr, sb = p["stub"]
    sax = px_axes(sl, st, sr, sb)
    sax.set_xlim(*x_limits(p))
    sax.set_ylim(0, 1)
    style(sax, p["right"], top=False)
    sax.grid(True, axis="x", **GRID_KW)
    if p["stub_line"]:
        sax.axhline(1, **GRID_KW)

    tx, ty = p["title"]
    fig.text(tx / W, 1 - ty / H, name, ha="center", va="center",
             fontsize=10.5, style="italic")
    lx, ly = p["ylab"]
    fig.text(lx / W, 1 - ly / H, "Percent Identity", ha="center", va="center",
             rotation=90, fontsize=9.5)

# thin strip of the neighbouring panel between the first two plots
eax = px_axes(468.5, 60, 470.5, 190)
eax.set_xlim(0, 1)
eax.set_ylim(*y_limits(panels[0], 60, 190))
style(eax, False)
eax.set_xticks([])
eax.grid(True, axis="y", **GRID_KW)
draw_reads(eax, edge_blue, BLUE, 0.8, 1.2)
draw_reads(eax, edge_red, RED, 0.8, 1.2)

fig.savefig("out.png", dpi=100, facecolor="white")
